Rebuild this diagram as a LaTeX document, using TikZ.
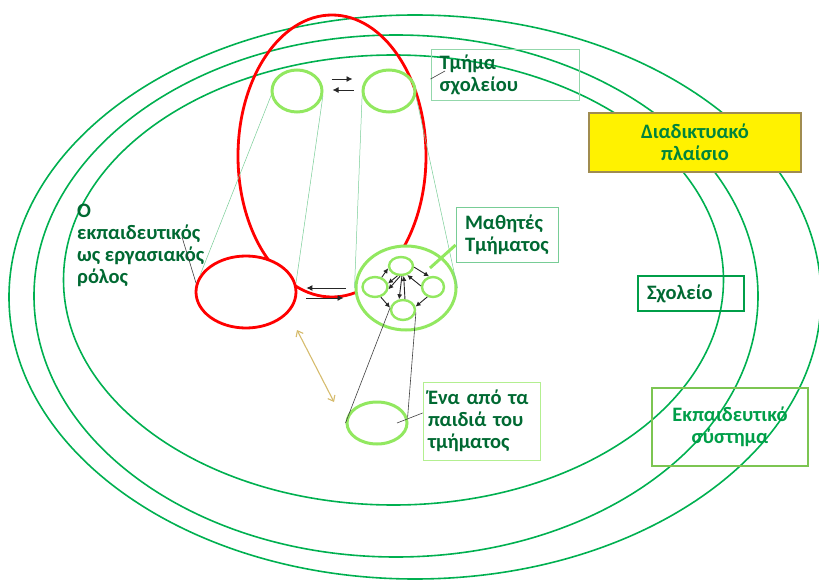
\documentclass[tikz,border=0pt]{standalone}
\usepackage{fontspec}
\setmainfont{Carlito}
\usetikzlibrary{shapes.geometric,arrows.meta}
\definecolor{ringgreen}{RGB}{0,176,80}
\definecolor{limegreen}{RGB}{146,232,96}
\definecolor{textgreen}{RGB}{0,105,50}
\definecolor{projgreen}{RGB}{120,205,150}
\definecolor{arrowtan}{RGB}{214,188,110}
\definecolor{boxolive}{RGB}{160,140,80}
\begin{document}
\begin{tikzpicture} [
                x=1pt, y=-1pt,
                ring/.style={ellipse,draw=ringgreen,line width=1.6pt,inner sep=0pt},
                redring/.style={ellipse,draw=red,line width=2.8pt,inner sep=0pt,fill=white},
                group/.style={ellipse,draw=limegreen,line width=3pt,inner sep=0pt},
                pupil/.style={group,line width=2.4pt},
                proj/.style={draw=projgreen,line width=0.5pt},
                leader/.style={draw=black!75,line width=0.6pt},
                arr/.style={draw=black!85,line width=0.9pt,-{Latex[length=6pt,width=6pt]}},
                small arr/.style={arr,-{Latex[length=5pt,width=5pt]}},
                gtext/.style={font=\bfseries\fontsize{20.5}{22}\selectfont,text=textgreen,inner sep=0pt},
                gbox/.style={gtext,rectangle,draw,line width=0.8pt,inner ysep=0pt},
            ]
            \useasboundingbox (0,0) rectangle (819,580);
            \foreach \pos/\name/\w/\h in {
                    {(393.5,280)/school/660/450}, {(396,296)/web/724/522}, {(415,297)/system/812/564}}
                \node[ring,minimum width=\w pt,minimum height=\h pt] (\name) at \pos {};
            \node[redring,fill=none,minimum width=188pt,minimum height=282pt] (frame) at (332,156) {};
            \node[redring,minimum width=100pt,minimum height=72pt] (teacher) at (246,292) {};
            \node[group,fill=white,minimum width=100pt,minimum height=84pt] (class) at (406,288) {};
            \foreach \pos/\name/\w/\h in {
                    {(297,91)/tmA/50/42}, {(389,91)/tmB/52/42}, {(377,423)/child/60/42}}
                \node[group,minimum width=\w pt,minimum height=\h pt] (\name) at \pos {};
            \foreach \pos/\name/\w/\h in {
                    {(401,266)/s1/24/18}, {(375,287)/s2/25/20}, {(433,287)/s3/22/20}, {(403,310)/s4/24/20}}
                \node[pupil,minimum width=\w pt,minimum height=\h pt] (\name) at \pos {};
            \node[gbox,draw=projgreen!80,minimum width=148pt,minimum height=51pt,
                  inner xsep=8.5pt,text width=131pt,align=left] (tmbox) at (505,74.5) {\strut Τμήμα\\σχολείου};
            \node[gbox,draw=projgreen,minimum width=102pt,minimum height=55pt,
                  inner xsep=9pt,text width=84pt,align=left] (classbox) at (507,234.5) {Μαθητές\\Τμήματος};
            \node[gbox,draw=limegreen!70,minimum width=117pt,minimum height=78pt,
                  inner xsep=5pt,text width=107pt,align=left] (childbox) at (481.5,421) {Ένα από τα\\παιδιά του\\τμήματος};
            \node[gbox,draw=ringgreen!90!black,line width=1.2pt,minimum width=106pt,minimum height=35pt,
                  inner xsep=9pt,text width=88pt,align=left] (schoolbox) at (691,293.5) {Σχολείο};
            \node[gbox,draw=boxolive,fill=yellow,line width=1.5pt,text=ringgreen!75!black,
                  minimum width=212pt,minimum height=59pt,align=center] (webbox) at (695,142.5) {Διαδικτυακό\\πλαίσιο};
            \node[gbox,draw=limegreen!85!black,line width=2pt,text=ringgreen!90!black,
                  minimum width=156pt,minimum height=78pt,align=center] (sysbox) at (730,427) {Εκπαιδευτικό\\σύστημα};
            \node[gtext,align=left,anchor=west] (teacherlabel) at (77,245) {Ο\\εκπαιδευτικός\\ως εργασιακός\\ρόλος};
            \foreach \source/ \dest in {
                    tmA.190/teacher.160, tmA.-10/teacher.10, tmB.190/class.180, tmB.-10/class.0}
                \path[proj] (\source) -- (\dest);
            \foreach \source/ \dest in {
                    child.180/s4.170, child.10/s4.-10}
                \path[leader] (\source) -- (\dest);
            \coordinate (tmtip) at (445,71);
            \coordinate (teachertip) at (182,237);
            \coordinate (childtip) at (397,423);
            \coordinate (classtip) at (430,268);
            \coordinate (tanA) at (297,330);
            \coordinate (tanB) at (334,402);
            \path[leader] ([yshift=-4.5pt]tmbox.west) -- (tmtip);
            \path[leader] (teachertip) -- (teacher.170);
            \path[leader] ([yshift=8pt]childbox.west) -- (childtip);
            \path[draw=limegreen,line width=3pt] ([yshift=-10.5pt]classbox.west) -- (classtip);
            \path[draw=arrowtan,line width=1.1pt,{Straight Barb[length=5pt,width=8pt]}-{Straight Barb[length=5pt,width=8pt]}] (tanA) -- (tanB);
            \path[arr,shorten <=8pt,shorten >=9pt] ([yshift=12pt]tmA.east) -- ([yshift=12pt]tmB.west);
            \path[arr,shorten <=8pt,shorten >=9pt] ([yshift=1pt]tmB.west) -- ([yshift=1pt]tmA.east);
            \path[arr,shorten <=9pt,shorten >=9pt] (class.west) -- ([yshift=4pt]teacher.east);
            \path[arr,shorten <=9pt,shorten >=11pt] ([yshift=-6pt]teacher.east) -- ([yshift=-10pt]class.west);
            \foreach \source/ \dest in {
                    s2.55/s1.190, s1.-5/s3.110, s3.240/s4.15, s2.-60/s4.170, s4.80/s1.-75,
                    s3.175/s1.-55, s1.-110/s2.15, s1.-95/s2.-10, s1.-85/s4.110}
                \path[small arr] (\source) -- (\dest);
        \end{tikzpicture}
\end{document}
